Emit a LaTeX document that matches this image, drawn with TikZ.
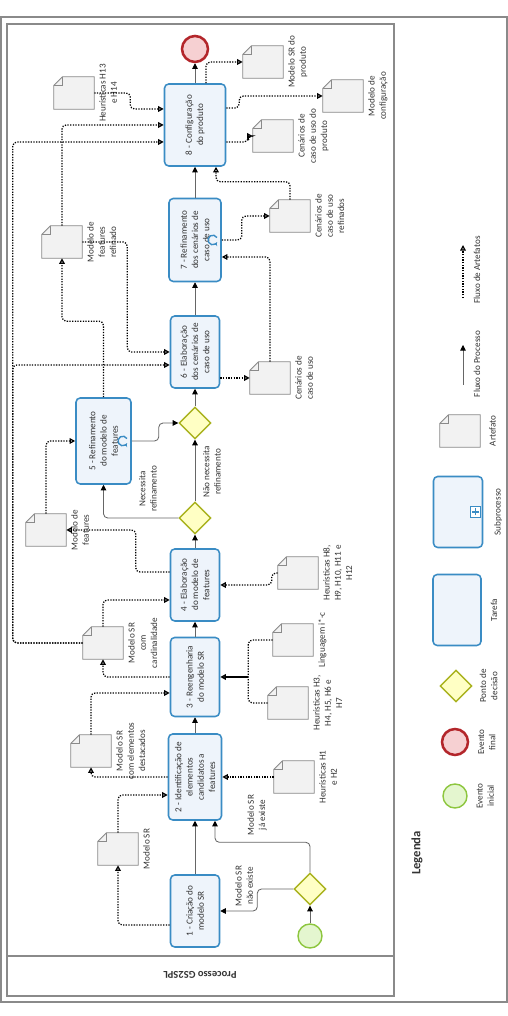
\documentclass[tikz,border=0pt]{standalone}
\usepackage{fontspec}
\setmainfont{Carlito}
\usepackage{xcolor}
\definecolor{bzblue}{HTML}{3A8CC4}
\definecolor{bzfill}{HTML}{EEF4FB}
\definecolor{bzgray}{HTML}{8A8A8A}
\definecolor{bzdoc}{HTML}{F2F2F2}
\definecolor{bzgold}{HTML}{A9B21E}
\definecolor{bzyellow}{HTML}{FFFFC4}
\definecolor{bzgreen}{HTML}{8DC63F}
\definecolor{bzlgreen}{HTML}{E4F6CF}
\definecolor{bzred}{HTML}{B3262B}
\definecolor{bzpink}{HTML}{F6D0D2}
\definecolor{bztext}{HTML}{333333}
\usetikzlibrary{shapes.geometric, arrows.meta, positioning, calc}

\begin{document}
\begin{tikzpicture}[
  x=0.25mm, y=0.25mm, rotate=90, transform shape,
  font=\fontsize{6.5}{8}\selectfont, text=bztext,
  task/.style={
    draw=bzblue, line width=1.1pt, rounded corners=3pt,
    fill=bzfill, minimum width=18mm, minimum height=12.25mm,
    align=center, inner sep=0.5pt
  },
  gate/.style={diamond, aspect=1, draw=bzgold, line width=1pt,
    fill=bzyellow, minimum size=8mm, inner sep=0pt},
  evini/.style={circle, draw=bzgreen, line width=1pt, fill=bzlgreen,
    minimum size=6mm, inner sep=0pt},
  evfim/.style={circle, draw=bzred, line width=1.8pt, fill=bzpink,
    minimum size=6.5mm, inner sep=0pt},
  artefato/.style={minimum width=8mm, minimum height=10mm, inner sep=0pt},
  lbl/.style={align=center, inner sep=0.5pt},
  fluxo/.style={-{Triangle[length=4pt, width=4pt, color=black]},
    draw=black!60, line width=0.6pt, rounded corners=3pt},
  assoc/.style={-{Triangle[open, length=4pt, width=4pt]},
    densely dotted, line width=0.9pt, rounded corners=3pt},
  loopmk/.style={draw=bzblue, line width=1pt,
    -{Stealth[length=2.4pt, width=2.8pt]}}
]
\useasboundingbox (0,-508) rectangle (1016,0);

% Frames
\draw[bzgray, line width=0.8pt] (14,-1) rectangle (999,-507);
\draw[bzgray, line width=0.8pt] (20,-7) rectangle (992,-394);
\draw[bzgray, line width=0.8pt] (60,-7) -- (60,-394);
\node[font=\fontsize{7.5}{9}\selectfont\bfseries, rotate=90] (pool) at (41,-200) {Processo GS2SPL};

% Events, gateways and tasks
\node[evini] (ini) at (80,-310) {};
\node[gate] (g0) at (127,-310) {};
\node[task] (t1) at (105,-195) {1 - Criação do\\modelo SR};
\node[task, minimum width=21.5mm, minimum height=13.25mm] (t2) at (239,-195)
  {2 - Identificação de\\elementos\\candidatos a\\features};
\node[task, minimum width=19.75mm] (t3) at (339,-195) {3 - Reengenharia\\do modelo SR};
\node[task] (t4) at (431,-195) {4 - Elaboração\\do modelo de\\features};
\node[gate] (g1) at (498,-195) {};
\node[task, minimum width=21.5mm, minimum height=13.75mm] (t5) at (575,-103.5)
  {5 - Refinamento\\do modelo de\\features};
\node[gate] (g2) at (593,-195) {};
\node[task] (t6) at (664,-195) {6 - Elaboração\\dos cenários de\\caso de uso};
\node[task, minimum width=20.75mm, minimum height=13mm] (t7) at (776,-195)
  {7 - Refinamento\\dos cenários de\\caso de uso};
\node[task, minimum width=20.5mm, minimum height=15.25mm] (t8) at (891,-195)
  {8 - Configuração\\do produto};
\node[evfim] (fim) at (967,-195) {};

% Loop markers
\draw[loopmk] ($(t5.south)+(2.4,4.8)$) arc[start angle=-60, end angle=240, radius=1.2mm];
\draw[loopmk] ($(t7.south)+(2.4,4.8)$) arc[start angle=-60, end angle=240, radius=1.2mm];

% Gateway labels
\node[lbl] (lno) at (130,-244) {Modelo SR\\não existe};
\node[lbl] (lsim) at (201,-257) {Modelo SR\\já existe};
\node[lbl] (lnec) at (527,-148) {Necessita\\refinamento};
\node[lbl] (lnao) at (544,-212) {Não necessita\\refinamento};

% Artefatos
\node[artefato] (dA) at (167,-118) {};
\node[artefato] (dB) at (265,-91) {};
\node[artefato] (dC) at (239,-294) {};
\node[artefato] (dD) at (313,-288) {};
\node[artefato] (dE) at (376,-293) {};
\node[artefato] (dF) at (443,-298) {};
\node[artefato] (dG) at (373,-103) {};
\node[artefato] (dH) at (486,-46) {};
\node[artefato] (dI) at (638,-270) {};
\node[artefato] (dJ) at (774,-62) {};
\node[artefato] (dK) at (800,-290) {};
\node[artefato] (dL) at (923,-74) {};
\node[artefato] (dM) at (954,-263) {};
\node[artefato] (dN) at (880,-273) {};
\node[artefato] (dO) at (920,-343) {};
\node[artefato] (lgart) at (585,-460) {};

\foreach \d in {dA,dB,dC,dD,dE,dF,dG,dH,dI,dJ,dK,dL,dM,dN,dO,lgart}{
  \draw[bzgray, fill=bzdoc, line width=0.6pt] (\d.south west) -- (\d.south east)
    -- ([yshift=-2.2mm]\d.north east) -- ([xshift=-2.2mm]\d.north east)
    -- (\d.north west) -- cycle;
  \draw[bzgray, line width=0.6pt] ([xshift=-2.2mm]\d.north east) |- ([yshift=-2.2mm]\d.north east);
}

\node[lbl, below=1mm of dA] (lA) {Modelo SR};
\node[lbl, below=1mm of dB] (lB) {Modelo SR\\com elementos\\destacados};
\node[lbl, below=1mm of dC] (lC) {Heurísticas H1\\e H2};
\node[lbl, below=1mm of dD] (lD) {Heurísticas H3,\\H4, H5, H6 e\\H7};
\node[lbl, below=1mm of dE] (lE) {Linguagem i*-c};
\node[lbl, below=1mm of dF] (lF) {Heurísticas H8,\\H9, H10, H11 e\\H12};
\node[lbl, below=1mm of dG] (lG) {Modelo SR\\com\\cardinalidade};
\node[lbl, below=1mm of dH] (lH) {Modelo de\\features};
\node[lbl, below=1mm of dI] (lI) {Cenários de\\caso de uso};
\node[lbl, below=1mm of dJ] (lJ) {Modelo de\\features\\refinado};
\node[lbl, below=1mm of dK] (lK) {Cenários de\\caso de uso\\refinados};
\node[lbl, below=1mm of dL] (lL) {Heurísticas H13\\e H14};
\node[lbl, below=1mm of dM] (lM) {Modelo SR do\\produto};
\node[lbl, below=1mm of dN] (lN) {Cenários de\\caso de uso do\\produto};
\node[lbl, below=1mm of dO] (lO) {Modelo de\\configuração};

% Fluxo do processo
\draw[fluxo] (ini) -- (g0);
\draw[fluxo] (g0.north) -- ++(0,36) -| (t1.south);
\draw[fluxo] (g0.east) -- ++(30,0) |- ($(t2.west)+(0,-20)$);
\draw[fluxo] (t1) -- (t2);
\draw[fluxo] (t2) -- (t3);
\draw[fluxo] (t3) -- (t4);
\draw[fluxo] (t4) -- (g1);
\draw[fluxo] (g1) -- (g2);
\draw[fluxo] (g1.north) |- (t5.west);
\draw[fluxo] (t5.south) -- ++(0,-27) -| (g2.north);
\draw[fluxo] (g2) -- (t6);
\draw[fluxo] (t6) -- (t7);
\draw[fluxo] (t7) -- (t8);
\draw[fluxo] (t8) -- (fim);

% Fluxo de artefatos
\draw[assoc] ($(t1.north)+(-14,0)$) |- (dA.west);
\draw[assoc] (dA.east) -| ($(t2.north)+(-18,0)$);
\draw[assoc] (t2.north) |- (dB.west);
\draw[assoc] (dB.east) -| ($(t3.north)+(-16,0)$);
\draw[assoc] (dC.north) -- (t2.south);
\coordinate (jn) at ($(t3.south)+(0,-28)$);
\draw[assoc, -] (dD.north) |- (jn);
\draw[assoc, -] (dE.north) |- (jn);
\draw[assoc, solid, line width=1.2pt] (jn) -- (t3.south);
\draw[assoc] (t3.north) |- (dG.west);
\draw[assoc] (dG.east) -| ($(t4.north)+(-15,0)$);
\draw[assoc] (dG.north) -- ++(0,70) -| ($(t6.north)+(-13,0)$);
\draw[assoc] (dG.north) -- ++(0,70) -| ($(t8.north)+(-17,0)$);
\draw[assoc] ($(t4.north)+(13,0)$) -- ++(0,34) -| (dH.south);
\draw[assoc] (dH.east) -| (t5.north);
\draw[assoc] (dF.north) -- ++(0,6) -| (t4.south);
\draw[assoc] (t5.east) -- ++(76,0) |- (dJ.west);
\draw[assoc] (dJ.south) -- ++(0,-45) -| (t6.north);
\draw[assoc] (dJ.east) -| (t8.north);
\draw[assoc] (dL.south) -- ++(0,-36) -| ($(t8.north)+(16,0)$);
\draw[assoc] ($(t6.south)+(-26,0)$) -- (dI.north);
\draw[assoc] (dI.east) -| ($(t7.south)+(-17,0)$);
\draw[assoc] (t7.south) -- ++(0,-20) -| (dK.north);
\draw[assoc] (dK.east) -- ++(18,0) |- ($(t8.west)+(0,-21)$);
\draw[assoc] ($(t8.east)+(0,-11)$) -| (dM.north);
\draw[assoc] ($(t8.south)+(17,0)$) -- ++(0,-13) -| (dO.north);
\draw[assoc] ($(t8.south)+(-17,0)$) -- ++(0,-22) -| (dN.north);

% Legenda
\node[font=\fontsize{9}{10}\selectfont\bfseries] (leg) at (163,-417) {Legenda};
\node[evini] (lgini) at (220,-455) {};
\node[lbl, below=2mm of lgini] (lglini) {Evento\\inicial};
\node[evfim] (lgfim) at (274,-455) {};
\node[lbl, below=2mm of lgfim] (lglfim) {Evento\\final};
\node[gate] (lggate) at (330,-456) {};
\node[lbl, below=1.5mm of lggate] (lglgate) {Ponto de\\decisão};
\node[task, minimum width=17.75mm, minimum height=12mm] (lgtar) at (406,-457) {};
\node[lbl, below=2mm of lgtar] (lgltar) {Tarefa};
\node[task, minimum width=17.75mm, minimum height=12.25mm] (lgsub) at (504,-458) {};
\node[draw=bzblue, fill=white, line width=0.8pt, minimum size=2.6mm, inner sep=0pt,
  anchor=south] (lgmk) at ($(lgsub.south)+(0,2)$) {};
\draw[bzblue, line width=0.9pt] ($(lgmk)+(-3.5,0)$) -- ($(lgmk)+(3.5,0)$)
  ($(lgmk)+(0,-3.5)$) -- ($(lgmk)+(0,3.5)$);
\node[lbl, below=2.5mm of lgsub] (lglsub) {Subprocesso};
\node[lbl, below=2mm of lgart] (lglart) {Artefato};
\coordinate (fp1) at (631,-463);
\coordinate (fp2) at (671,-463);
\draw[fluxo] (fp1) -- (fp2);
\node[lbl] (lglfp) at (652,-477) {Fluxo do Processo};
\coordinate (fa1) at (718,-463);
\coordinate (fa2) at (771,-463);
\draw[assoc] (fa1) -- (fa2);
\node[lbl] (lglfa) at (746,-477) {Fluxo de Artefatos};

\end{tikzpicture}
\end{document}
